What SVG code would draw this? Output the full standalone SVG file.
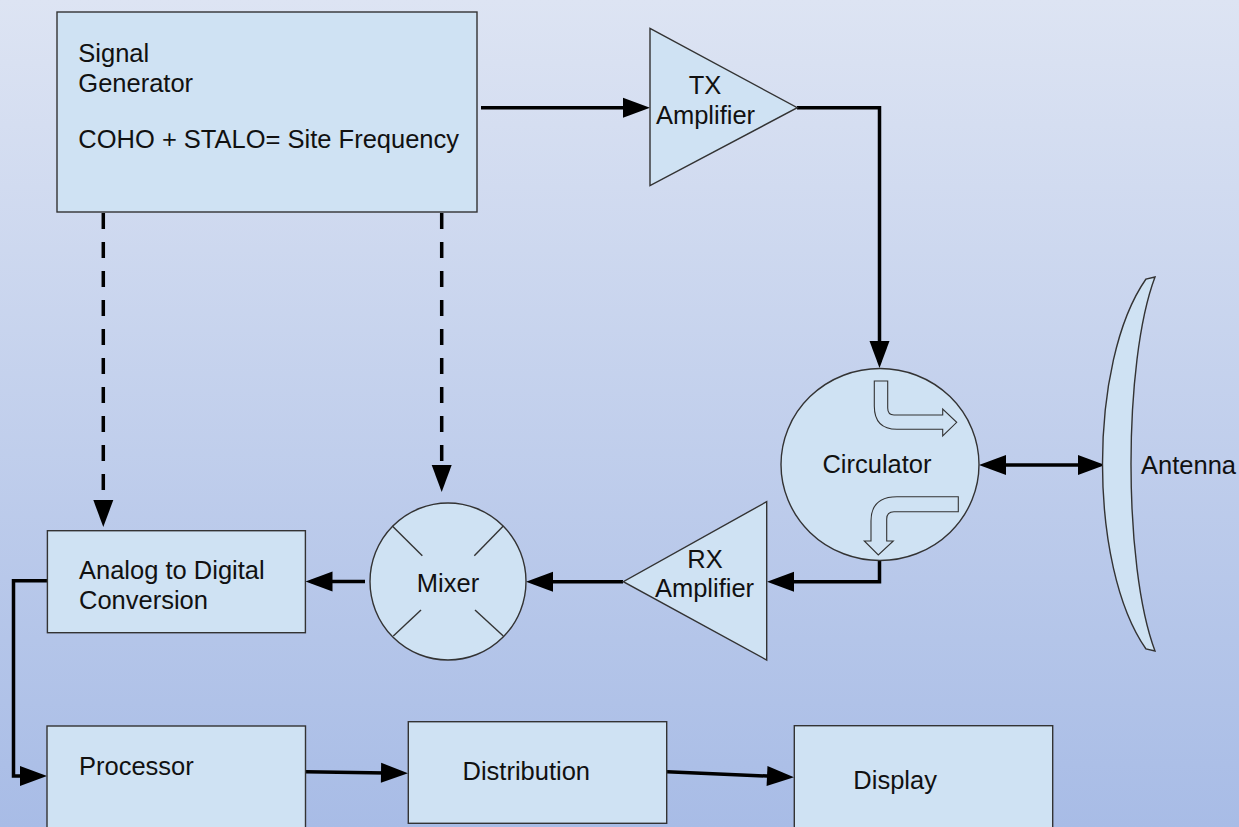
<svg xmlns="http://www.w3.org/2000/svg" width="1239" height="827" viewBox="0 0 1239 827">
<defs>
<linearGradient id="bg" x1="0" y1="0" x2="0" y2="1">
<stop offset="0" stop-color="#dde4f3"/>
<stop offset="1" stop-color="#a8bce6"/>
</linearGradient>
<marker id="ah" markerUnits="userSpaceOnUse" markerWidth="29" markerHeight="21" refX="21" refY="10" orient="auto-start-reverse" overflow="visible">
<path d="M0,0 L27,10 L0,20 Z" fill="#000"/>
</marker>
<style>
.node{fill:#cfe2f3;stroke:#333;stroke-width:1.4}
.t{font-family:"Liberation Sans",Arial,sans-serif;font-size:25.5px;fill:#111}
.m{text-anchor:middle}
.c{fill:none;stroke:#000;stroke-width:3.5;marker-end:url(#ah)}
.d{stroke-dasharray:16 13}
.x{stroke:#333;stroke-width:1.4;fill:none}
</style>
</defs>
<rect width="1239" height="827" fill="url(#bg)"/>

<g id="connectors">
<path class="c" d="M481,107.7 H644"/>
<path class="c" d="M797,107.7 H879.5 V362"/>
<path class="c" d="M985,465 H1099" style="marker-start:url(#ah)"/>
<path class="c" d="M879.5,561 V581.7 H773"/>
<path class="c" d="M623,581.7 H532"/>
<path class="c" d="M365,581.5 H311.5"/>
<path class="c" d="M47,580.7 H13.5 V776 H41"/>
<path class="c" d="M305.5,771.7 L402,773.2"/>
<path class="c" d="M667,771.7 L788,777"/>
<path class="c d" d="M103.3,213 V521"/>
<path class="c d" d="M441.7,213 V486"/>
</g>

<g id="signal-generator">
<rect class="node" x="57" y="12" width="420" height="200"/>
<text class="t" x="78.3" y="62">Signal</text>
<text class="t" x="78.3" y="92">Generator</text>
<text class="t" x="78.3" y="148">COHO + STALO= Site Frequency</text>
</g>

<g id="tx-amplifier">
<polygon class="node" points="650,28.3 797.3,107.7 650,185.7"/>
<text class="t m" x="705" y="94">TX</text>
<text class="t m" x="705.5" y="124">Amplifier</text>
</g>

<g id="circulator">
<ellipse class="node" cx="880" cy="464.5" rx="99" ry="96"/>
<path class="node" style="stroke-width:1.1" d="M874.3,381 L887.7,381 L887.7,408 Q887.7,415 894,415 L942.7,415 L942.7,409 L956.7,422.3 L942.7,436 L942.7,429.3 L897,429.3 Q874.3,429.3 874.3,406 Z"/>
<path class="node" style="stroke-width:1.1" d="M958.3,496.7 L958.3,511.7 L894,511.7 Q886.7,511.7 886.7,519 L886.7,541 L893.3,541 L878.3,555 L864.3,541 L871,541 L871,521 Q871,496.7 897,496.7 Z"/>
<text class="t m" x="877" y="473">Circulator</text>
</g>

<g id="antenna">
<path class="node" d="M1155,277 L1146,279 C1088,362 1088,566 1146,649 L1155,651 C1123,566 1123,362 1155,277 Z"/>
<text class="t" x="1141" y="474">Antenna</text>
</g>

<g id="rx-amplifier">
<polygon class="node" points="766.7,501.7 623.3,581.7 766.7,660"/>
<text class="t m" x="705" y="567.7">RX</text>
<text class="t m" x="704.5" y="596.7">Amplifier</text>
</g>

<g id="mixer">
<ellipse class="node" cx="448" cy="581.5" rx="78" ry="78.5"/>
<line class="x" x1="392.3" y1="526" x2="422.3" y2="555.7"/>
<line class="x" x1="503.3" y1="526" x2="474.3" y2="555.7"/>
<line class="x" x1="393.3" y1="636" x2="421" y2="610"/>
<line class="x" x1="503.3" y1="636" x2="475" y2="610"/>
<text class="t m" x="448" y="591.7">Mixer</text>
</g>

<g id="adc">
<rect class="node" x="47.4" y="530.7" width="258" height="102"/>
<text class="t" x="79" y="579.3">Analog to Digital</text>
<text class="t" x="79" y="609">Conversion</text>
</g>

<g id="processor">
<rect class="node" x="47" y="726" width="258.5" height="110"/>
<text class="t" x="79" y="774.5">Processor</text>
</g>

<g id="distribution">
<rect class="node" x="408.3" y="721.7" width="258.4" height="101.6"/>
<text class="t" x="462.5" y="780">Distribution</text>
</g>

<g id="display">
<rect class="node" x="794.3" y="725.7" width="258.4" height="110"/>
<text class="t" x="853.3" y="789">Display</text>
</g>
</svg>
